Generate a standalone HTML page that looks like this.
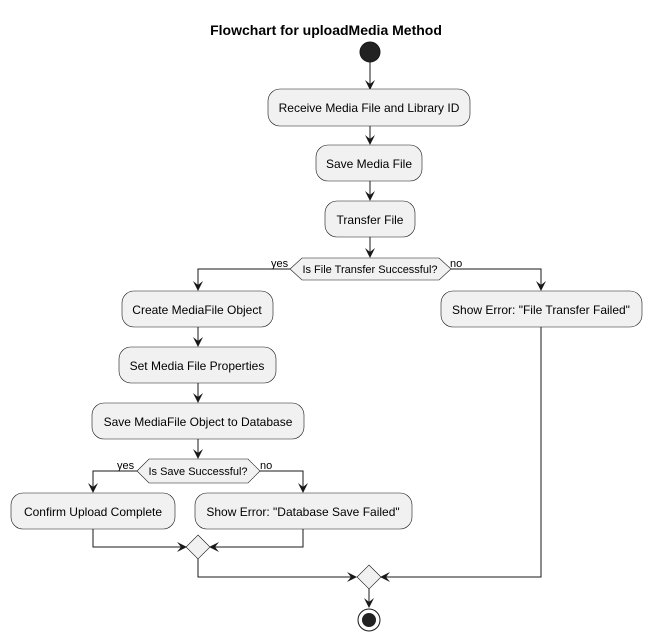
<!DOCTYPE html>
<html><head><meta charset="utf-8"><style>body{margin:0;background:#fff}svg{display:block}</style></head><body>
<svg width="652" height="641" xmlns="http://www.w3.org/2000/svg" font-family="Liberation Sans, sans-serif">
<defs><marker id="a" markerWidth="10" markerHeight="10" refX="9" refY="5" orient="auto" markerUnits="userSpaceOnUse"><path d="M0,0 L10,5 L0,10 L4,5 Z" fill="#181818"/></marker></defs>
<text x="326" y="35" text-anchor="middle" font-size="14" font-weight="bold">Flowchart for uploadMedia Method</text>
<g stroke="#181818" stroke-width="1" fill="none">
<circle cx="370" cy="52" r="10" fill="#222"/>
<line x1="370" y1="62" x2="370" y2="89" marker-end="url(#a)"/>
<line x1="370" y1="126" x2="370" y2="144" marker-end="url(#a)"/>
<line x1="370" y1="181" x2="370" y2="200" marker-end="url(#a)"/>
<line x1="370" y1="237" x2="370" y2="257" marker-end="url(#a)"/>
<polyline points="290,269 198,269 198,290" marker-end="url(#a)"/>
<polyline points="451,269 541,269 541,290" marker-end="url(#a)"/>
<line x1="198" y1="327" x2="198" y2="346" marker-end="url(#a)"/>
<line x1="198" y1="383" x2="198" y2="402" marker-end="url(#a)"/>
<line x1="198" y1="439" x2="198" y2="458" marker-end="url(#a)"/>
<polyline points="137,471 93,471 93,492" marker-end="url(#a)"/>
<polyline points="260,471 303,471 303,492" marker-end="url(#a)"/>
<polyline points="93,529 93,547 186,547" marker-end="url(#a)"/>
<polyline points="303,529 303,547 210,547" marker-end="url(#a)"/>
<polyline points="198,559 198,577 356,577" marker-end="url(#a)"/>
<polyline points="541,327 541,577 381,577" marker-end="url(#a)"/>
<line x1="369" y1="589" x2="369" y2="607" marker-end="url(#a)"/>
<circle cx="369" cy="620" r="11" fill="#fff"/>
<circle cx="369" cy="620" r="7" fill="#222" stroke="none"/>
<g fill="#f1f1f1" stroke="#181818" stroke-width="0.6">
<rect x="268" y="89" width="202" height="37" rx="12"/>
<rect x="316" y="145" width="106" height="36" rx="12"/>
<rect x="325" y="201" width="90" height="36" rx="12"/>
<polygon points="290,269 302,258 439,258 451,269 439,280 302,280"/>
<rect x="122" y="291" width="151" height="36" rx="12"/>
<rect x="441" y="291" width="201" height="36" rx="12"/>
<rect x="119" y="347" width="157" height="36" rx="12"/>
<rect x="92" y="403" width="212" height="36" rx="12"/>
<polygon points="137,471 149,459 248,459 260,471 248,483 149,483"/>
<rect x="11" y="493" width="164" height="36" rx="12"/>
<rect x="195" y="493" width="217" height="36" rx="12"/>
<polygon points="198,535 210,547 198,559 186,547"/>
<polygon points="369,565 381,577 369,589 357,577"/>
</g></g>
<g font-size="12" fill="#000" text-anchor="middle">
<text x="369" y="112">Receive Media File and Library ID</text>
<text x="369" y="168">Save Media File</text>
<text x="370" y="224">Transfer File</text>
<text x="370" y="273" font-size="11">Is File Transfer Successful?</text>
<text x="197" y="314">Create MediaFile Object</text>
<text x="541" y="314">Show Error: "File Transfer Failed"</text>
<text x="197" y="370">Set Media File Properties</text>
<text x="198" y="426">Save MediaFile Object to Database</text>
<text x="198" y="475" font-size="11">Is Save Successful?</text>
<text x="93" y="516">Confirm Upload Complete</text>
<text x="303" y="516">Show Error: "Database Save Failed"</text>
</g>
<g font-size="11" fill="#000">
<text x="271" y="267">yes</text><text x="450" y="267">no</text>
<text x="117" y="469">yes</text><text x="260" y="469">no</text>
</g>
</svg>
</body></html>
